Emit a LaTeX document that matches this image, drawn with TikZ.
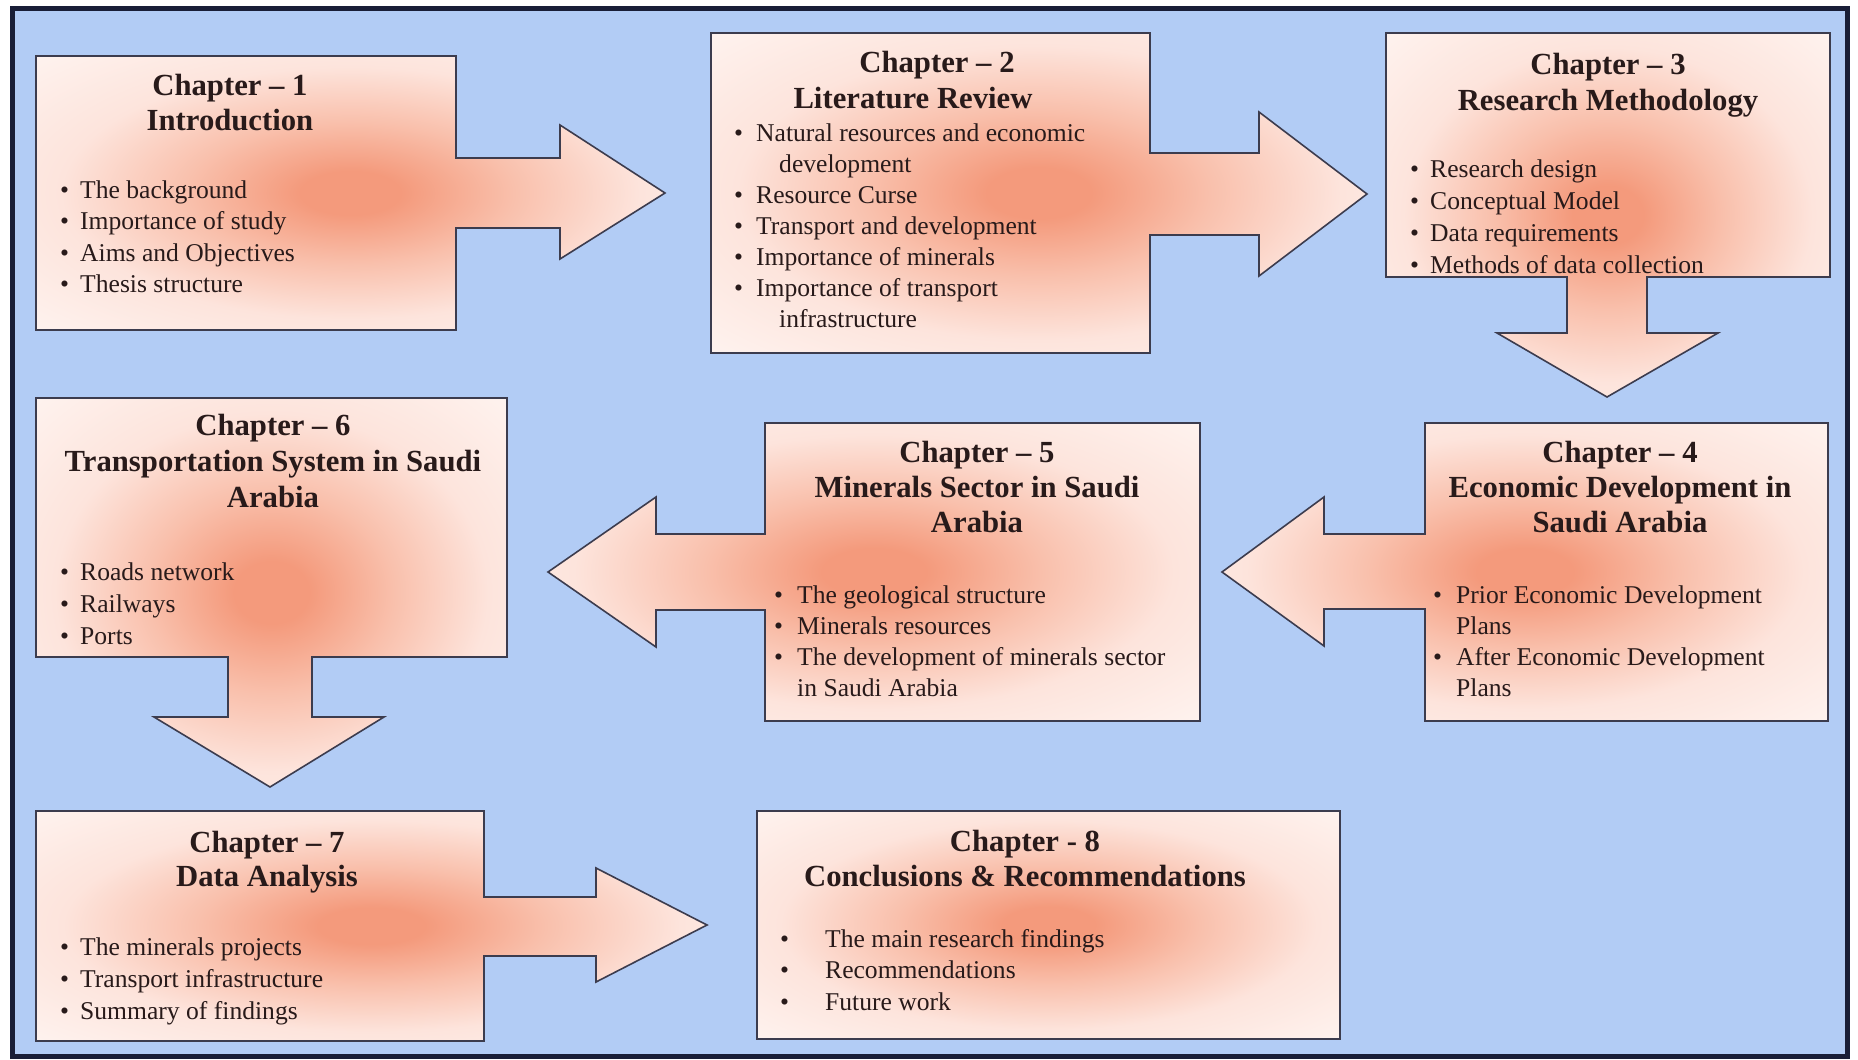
\documentclass[tikz,border=0pt]{standalone}
\usepackage{fontspec}
\setmainfont{Liberation Serif}
\definecolor{bgblue}{RGB}{178,204,245}
\definecolor{frameblue}{RGB}{25,30,55}
\definecolor{edgecol}{RGB}{60,60,78}
\definecolor{txt}{RGB}{40,26,26}
\definecolor{salmon}{RGB}{244,154,124}
\definecolor{midpink}{RGB}{249,192,172}
\definecolor{palepink}{RGB}{253,228,220}
\definecolor{whitepink}{RGB}{254,242,238}
\pgfdeclareradialshading{chapfade}{\pgfpoint{0bp}{0bp}}{color(0bp)=(salmon); color(4bp)=(salmon); color(13bp)=(midpink); color(23bp)=(palepink); color(35bp)=(whitepink); color(50bp)=(whitepink)}
\newcommand{\bi}[1]{\makebox[#1][l]{\textbullet}}
\tikzset{
  chap/.style={draw=edgecol, line width=1.6pt, shade, shading=chapfade, line join=miter},
  head/.style={font=\bfseries\fontsize{30.7}{35}\selectfont, text=txt, align=center, anchor=base, inner sep=0pt},
  items/.style={font=\fontsize{25.6}{31.5}\selectfont, text=txt, align=left, anchor=base west, inner sep=0pt},
}
\begin{document}
\begin{tikzpicture}[x=1pt,y=-1pt]
\useasboundingbox (0,0) rectangle (1858,1060);
\fill[white] (0,0) rectangle (1858,1060);
\draw[frameblue, line width=5pt, fill=bgblue] (12,8) rectangle (1847,1056);

% Chapter 1 with arrow to the right
\path[chap] (36,56) -- (456,56) -- (456,158) -- (560,158) -- (560,125) -- (665,193)
  -- (560,259) -- (560,228) -- (456,228) -- (456,330) -- (36,330) -- cycle;
% Chapter 2 with arrow to the right
\path[chap] (711,33) -- (1150,33) -- (1150,153) -- (1259,153) -- (1259,112) -- (1367,194)
  -- (1259,276) -- (1259,235) -- (1150,235) -- (1150,353) -- (711,353) -- cycle;
% Chapter 3 with arrow down
\path[chap] (1386,33) -- (1830,33) -- (1830,277) -- (1647,277) -- (1647,333) -- (1718,333)
  -- (1607,397) -- (1497,333) -- (1567,333) -- (1567,277) -- (1386,277) -- cycle;
% Chapter 4 with arrow to the left
\path[chap] (1425,423) -- (1828,423) -- (1828,721) -- (1425,721) -- (1425,609) -- (1324,609)
  -- (1324,646) -- (1222,572) -- (1324,497) -- (1324,534) -- (1425,534) -- cycle;
% Chapter 5 with arrow to the left
\path[chap] (765,423) -- (1200,423) -- (1200,721) -- (765,721) -- (765,610) -- (656,610)
  -- (656,647) -- (548,572) -- (656,497) -- (656,534) -- (765,534) -- cycle;
% Chapter 6 with arrow down
\path[chap] (36,398) -- (507,398) -- (507,657) -- (312,657) -- (312,717) -- (384,717)
  -- (270,787) -- (154,717) -- (228,717) -- (228,657) -- (36,657) -- cycle;
% Chapter 7 with arrow to the right
\path[chap] (36,811) -- (484,811) -- (484,897) -- (596,897) -- (596,868) -- (707,925)
  -- (596,982) -- (596,956) -- (484,956) -- (484,1041) -- (36,1041) -- cycle;
% Chapter 8
\path[chap] (757,811) rectangle (1340,1039);

% Texts (anchor = baseline of the last line)
\node[head] (h1) at (230,130) {Chapter -- 1\\Introduction};
\node[items] (l1) at (60,292.5) {\bi{20pt}The background\\\bi{20pt}Importance of study\\\bi{20pt}Aims and Objectives\\\bi{20pt}Thesis structure};

\node[head] (h2a) at (937,72) {Chapter -- 2};
\node[head] (h2b) at (913,108) {Literature Review};
\node[items, font=\fontsize{25.6}{31}\selectfont] (l2) at (734,327) {\bi{22pt}Natural resources and economic\\\hspace*{45pt}development\\\bi{22pt}Resource Curse\\\bi{22pt}Transport and development\\\bi{22pt}Importance of minerals\\\bi{22pt}Importance of transport\\\hspace*{45pt}infrastructure};

\node[head, font=\bfseries\fontsize{30.7}{36}\selectfont] (h3) at (1608,110) {Chapter -- 3\\Research Methodology};
\node[items, font=\fontsize{25.6}{31.7}\selectfont] (l3) at (1410,273) {\bi{20pt}Research design\\\bi{20pt}Conceptual Model\\\bi{20pt}Data requirements\\\bi{20pt}Methods of data collection};

\node[head] (h4) at (1620,532) {Chapter -- 4\\Economic Development in\\Saudi Arabia};
\node[items, font=\fontsize{25.6}{31}\selectfont] (l4) at (1433,696) {\bi{23pt}Prior Economic Development\\\hspace*{23pt}Plans\\\bi{23pt}After Economic Development\\\hspace*{23pt}Plans};

\node[head] (h5) at (977,532) {Chapter -- 5\\Minerals Sector in Saudi\\Arabia};
\node[items, font=\fontsize{25.6}{31}\selectfont] (l5) at (774,696) {\bi{23pt}The geological structure\\\bi{23pt}Minerals resources\\\bi{23pt}The development of minerals sector\\\hspace*{23pt}in Saudi Arabia};

\node[head, font=\bfseries\fontsize{30.7}{36}\selectfont] (h6) at (273,507) {Chapter -- 6\\Transportation System in Saudi\\Arabia};
\node[items, font=\fontsize{25.6}{32}\selectfont] (l6) at (60,644) {\bi{20pt}Roads network\\\bi{20pt}Railways\\\bi{20pt}Ports};

\node[head, font=\bfseries\fontsize{30.7}{34}\selectfont] (h7) at (267,886) {Chapter -- 7\\Data Analysis};
\node[items, font=\fontsize{25.6}{32}\selectfont] (l7) at (60,1019) {\bi{20pt}The minerals projects\\\bi{20pt}Transport infrastructure\\\bi{20pt}Summary of findings};

\node[head] (h8) at (1025,886) {Chapter - 8\\Conclusions \& Recommendations};
\node[items] (l8) at (780,1010) {\bi{45pt}The main research findings\\\bi{45pt}Recommendations\\\bi{45pt}Future work};
\end{tikzpicture}
\end{document}
